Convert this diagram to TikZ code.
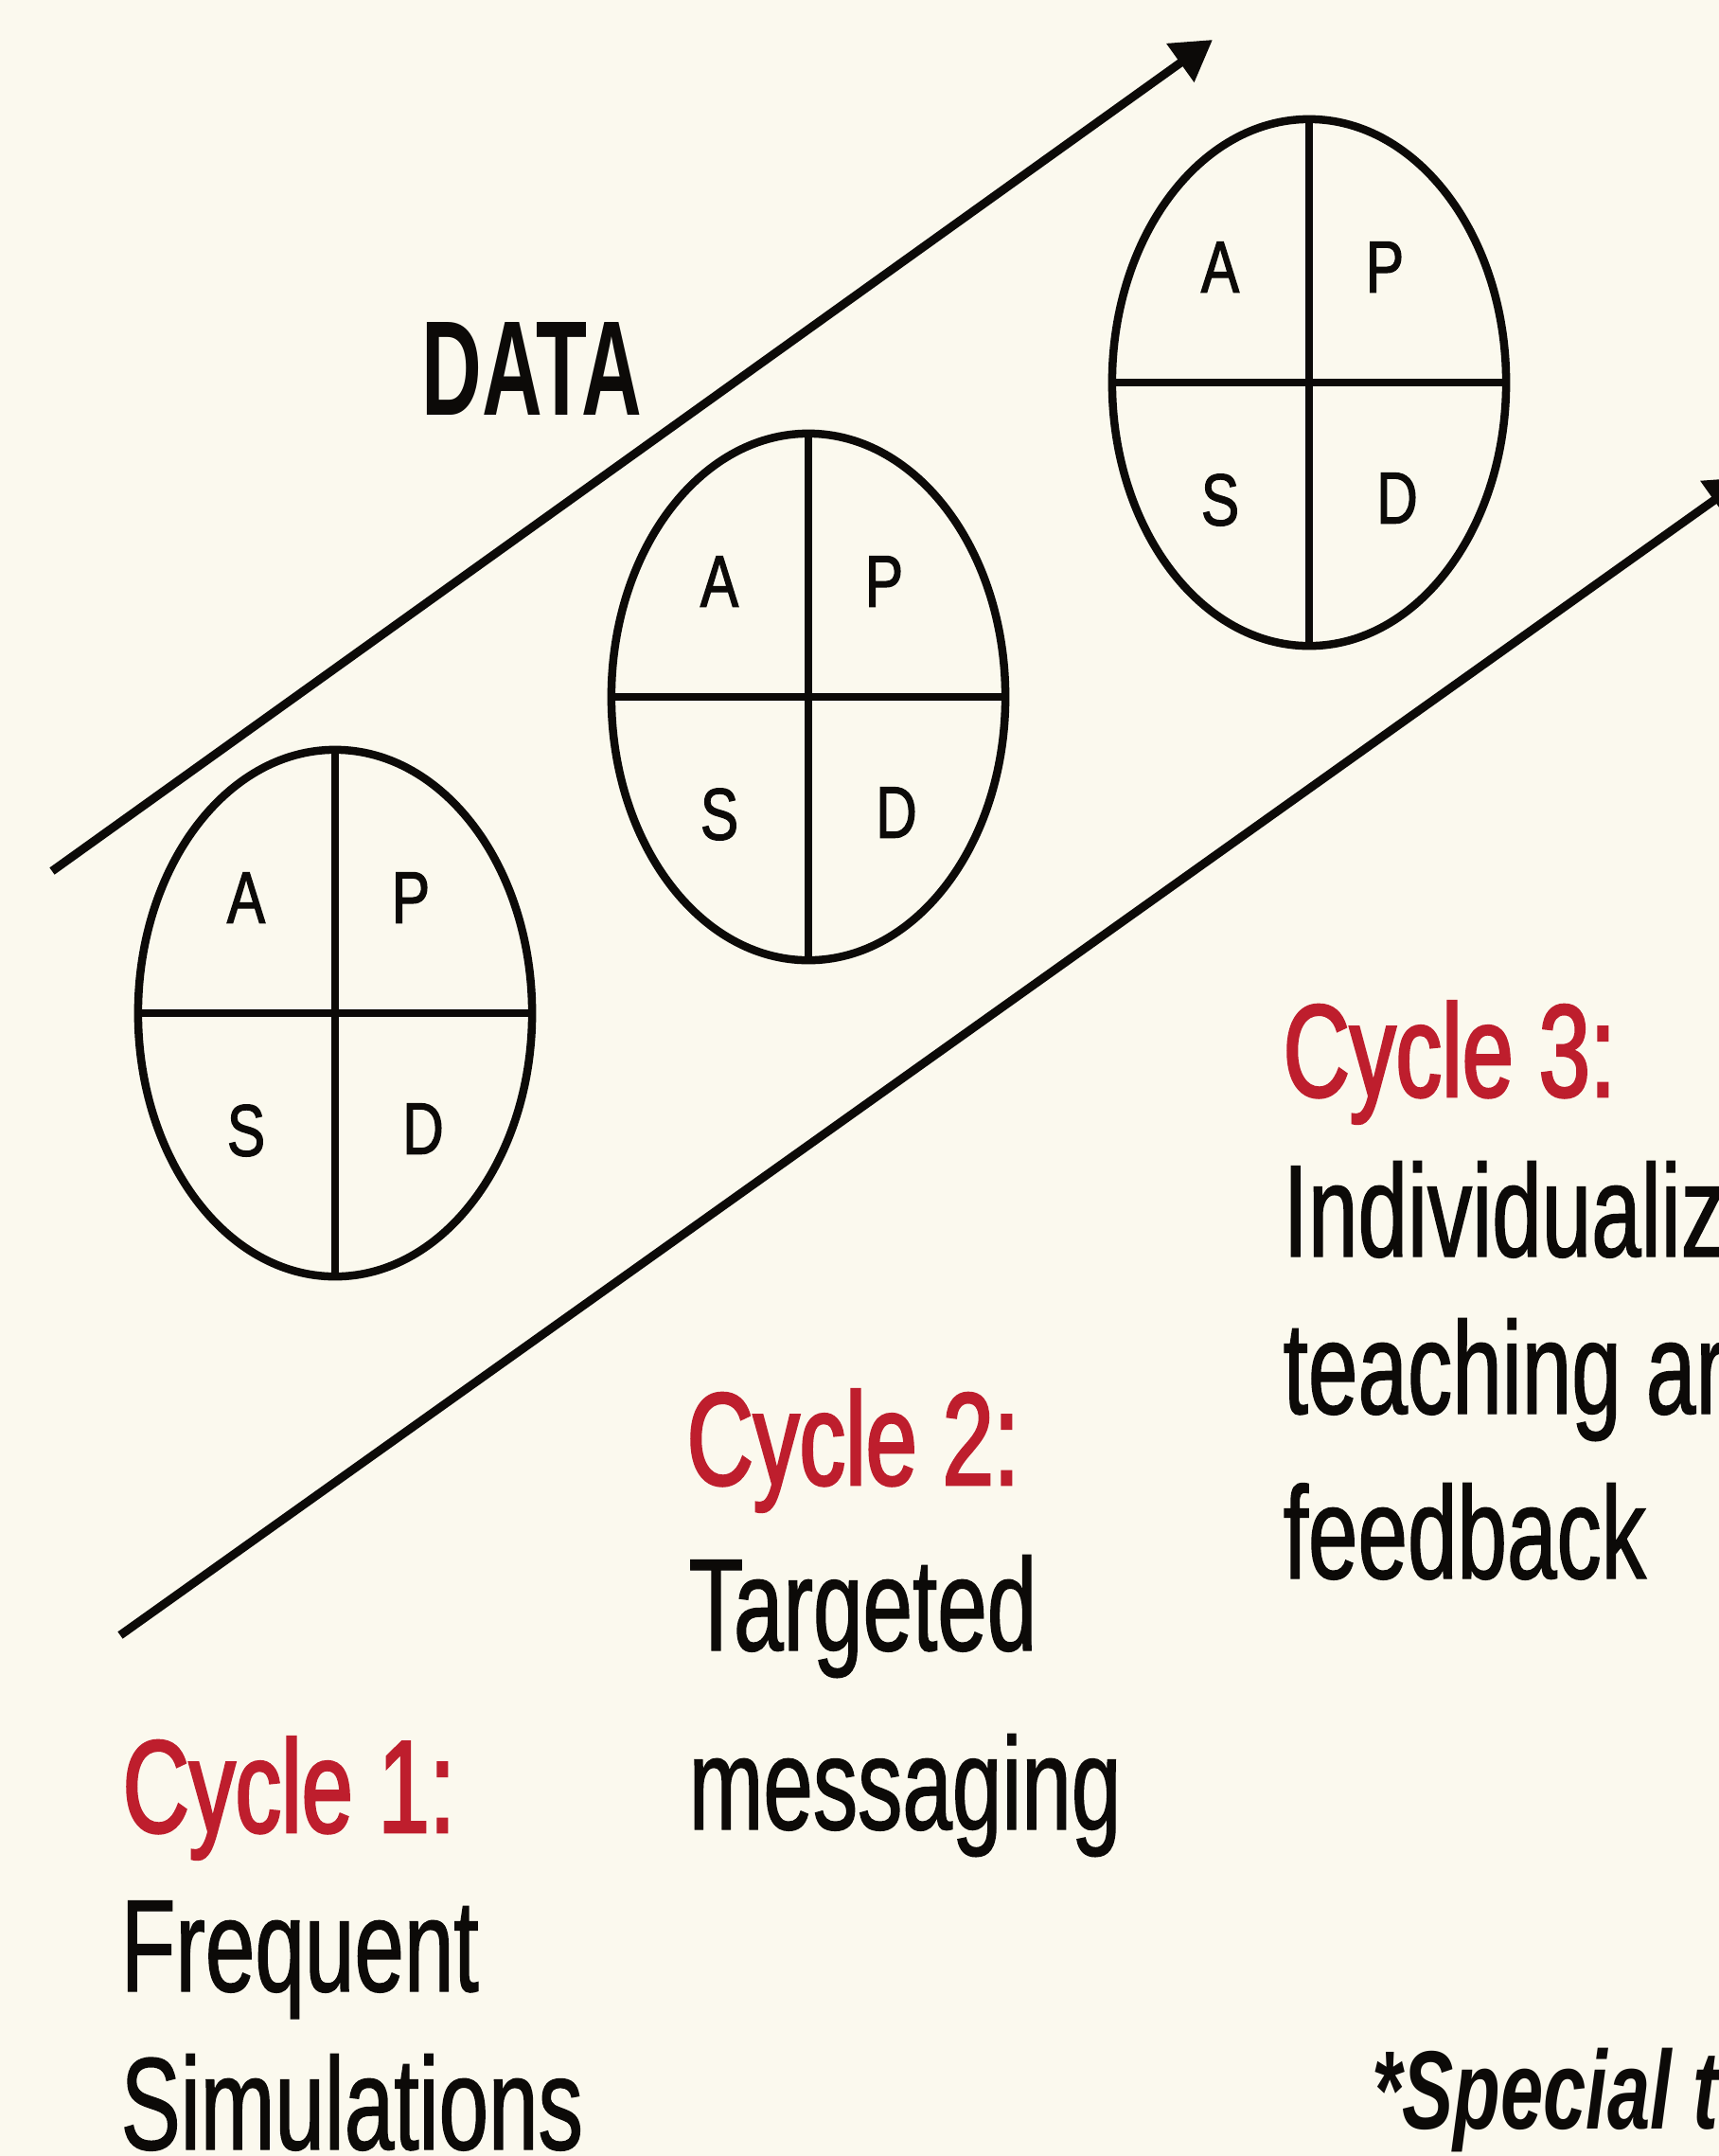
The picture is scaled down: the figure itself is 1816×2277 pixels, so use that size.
\documentclass[tikz,border=0pt]{standalone}
\usepackage{fontspec}
\setmainfont{Liberation Sans}[FakeStretch=0.68,FakeBold=1.0]
\newfontfamily\redfont{Liberation Sans}[FakeStretch=0.70,FakeBold=2.0]
\newfontfamily\quadfont{Liberation Sans}[FakeStretch=0.78,FakeBold=1.6]
\newfontfamily\datafont{Liberation Sans}[FakeStretch=0.62]
\newfontfamily\notefont{Liberation Sans}[FakeStretch=0.69]
\usetikzlibrary{shapes.geometric,arrows.meta,calc}
\definecolor{bgcream}{RGB}{251,249,238}
\definecolor{cyclered}{RGB}{190,30,45}
\definecolor{inkblack}{RGB}{12,10,8}
\begin{document}
\begin{tikzpicture}[x=0.01cm,y=-0.01cm,
  pdsa/.style={draw=inkblack, ellipse, line width=0.085cm, minimum width=4.16cm, minimum height=5.56cm, inner sep=0pt, outer sep=0pt},
  divider/.style={draw=inkblack, line width=0.085cm},
  quad/.style={font=\fontsize{22}{24}\selectfont\quadfont, text=inkblack, inner sep=0pt, anchor=center},
  flow/.style={draw=inkblack, line width=0.09cm, -{Triangle[length=0.42cm,width=0.48cm]}},
  redhead/.style={anchor=base west, inner sep=0pt, text=cyclered, font=\fontsize{39.5}{45}\selectfont\redfont},
  bodytxt/.style={anchor=base west, inner sep=0pt, text=inkblack, font=\fontsize{39.5}{45}\selectfont},
]
\fill[bgcream] (0,0) rectangle (1816,2277);
\useasboundingbox (0,0) rectangle (1816,2277);
\clip (0,0) rectangle (1816,2277);

% flow arrows
\coordinate (dataStart) at (55,920);
\coordinate (dataEnd) at (1281,42);
\coordinate (lowStart) at (127,1727);
\coordinate (lowEnd) at (1845,504);
\draw[flow] (dataStart) -- (dataEnd);
\draw[flow] (lowStart) -- (lowEnd);

\node[anchor=base west, inner sep=0pt, text=inkblack, font=\fontsize{40.5}{46}\selectfont\datafont\bfseries] (data) at (445,438) {DATA};

% PDSA circles
\foreach \n/\cx/\cy in {c1/354/1070, c2/854/736, c3/1383/404}{
  \node[pdsa] (\n) at (\cx,\cy) {};
  \draw[divider] (\n.north) -- (\n.south);
  \draw[divider] (\n.west) -- (\n.east);
  \node[quad] (\n a) at ($(\n)+(-94,-122)$) {A};
  \node[quad] (\n p) at ($(\n)+(80,-122)$) {P};
  \node[quad] (\n s) at ($(\n)+(-94,124)$) {S};
  \node[quad] (\n d) at ($(\n)+(93,122)$) {D};
}

% Cycle 1
\node[redhead] (cyc1) at (129,1935) {Cycle 1:};
\node[bodytxt] (cyc1a) at (127,2103) {Frequent};
\node[bodytxt] (cyc1b) at (127,2270) {Simulations};

% Cycle 2
\node[redhead] (cyc2) at (725,1568) {Cycle 2:};
\node[bodytxt] (cyc2a) at (727,1743) {Targeted};
\node[bodytxt] (cyc2b) at (727,1932) {messaging};

% Cycle 3
\node[redhead] (cyc3) at (1355,1158) {Cycle 3:};
\node[bodytxt] (cyc3a) at (1355,1327) {Individualiz};
\node[bodytxt] (cyc3b) at (1355,1493) {teaching ar};
\node[bodytxt] (cyc3c) at (1355,1667) {feedback};

\node[anchor=base west, inner sep=0pt, text=inkblack, font=\fontsize{33.5}{38}\selectfont\notefont\bfseries\itshape] (note) at (1449,2248) {*Special t};
\end{tikzpicture}
\end{document}
